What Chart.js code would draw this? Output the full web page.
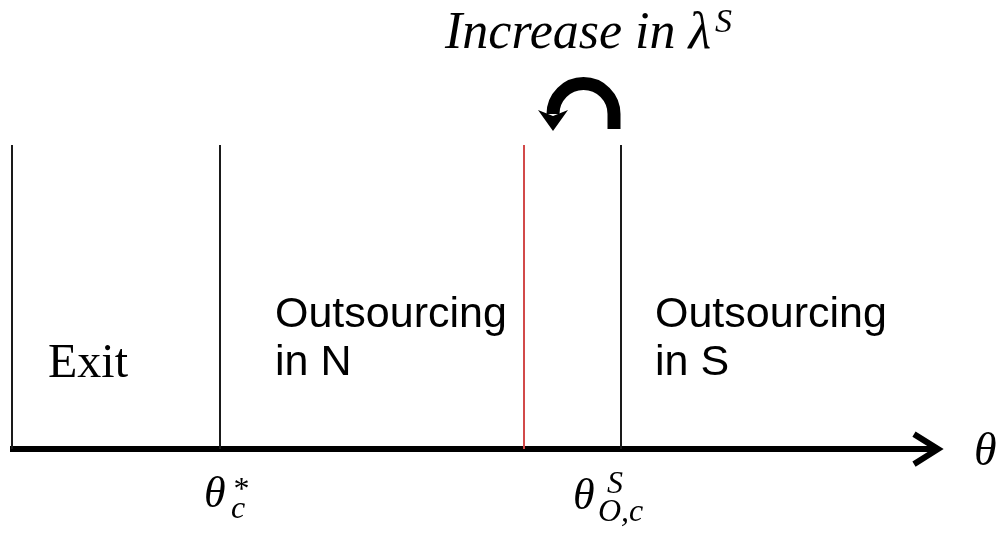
<!DOCTYPE html>
<html>
<head>
<meta charset="utf-8">
<script src="https://cdn.jsdelivr.net/npm/chart.js@4.4.0/dist/chart.umd.min.js"></script>
<style>
  html, body { margin: 0; padding: 0; background: #fff; overflow: hidden; }
  canvas { display: block; }
</style>
</head>
<body>
<canvas id="diagrama" width="1001" height="533"></canvas>
<script>
// umbrales sobre el eje theta (unidades del eje)
const umbrales = [0, 2.08, 5.12, 6.09];
const coloresUmbral = ['#1a1a1a', '#1a1a1a', '#d24a4a', '#1a1a1a'];
const finEje = 9.26;

// regiones: texto y umbral donde empiezan
const regiones = [['Exit'], ['Outsourcing', 'in N'], ['Outsourcing', 'in S']];
const inicioRegion = [0, 1, 3];

// etiquetas bajo el eje: [umbral, base, superindice, subindice]
const etiquetasUmbral = [
    [1, 'θ', '*', 'c'],
    [3, 'θ', 'S', 'O,c']
];
const tituloFlecha = ['Increase in λ', 'S'];

document.addEventListener('DOMContentLoaded', function() {
    const canvas = document.getElementById('diagrama');

    const lineasVerticales = umbrales.map(function(u, i) {
        return {
            data: [{ x: u, y: 0 }, { x: u, y: 1 }],
            borderColor: coloresUmbral[i],
            borderWidth: 2,
            pointRadius: 0,
            showLine: true
        };
    });

    const eje = {
        data: [{ x: -0.02, y: 0 }, { x: finEje, y: 0 }],
        borderColor: '#000',
        borderWidth: 6,
        pointRadius: 0,
        showLine: true
    };

    const dibujos = {
        id: 'dibujos',
        afterDatasetsDraw(chart) {
            const ctx = chart.ctx;
            const sx = chart.scales.x, sy = chart.scales.y;
            const y0 = sy.getPixelForValue(0);
            const punta = sx.getPixelForValue(finEje);
            ctx.save();

            // punta de flecha del eje
            ctx.strokeStyle = '#000';
            ctx.lineWidth = 6;
            ctx.lineJoin = 'miter';
            ctx.beginPath();
            ctx.moveTo(punta - 24, y0 - 15);
            ctx.lineTo(punta, y0);
            ctx.lineTo(punta - 24, y0 + 15);
            ctx.stroke();

            ctx.fillStyle = '#000';
            ctx.textBaseline = 'alphabetic';
            ctx.textAlign = 'left';

            // theta al final del eje
            ctx.font = 'italic 46px "Liberation Serif"';
            ctx.fillText('θ', punta + 36, y0 + 16);

            // textos de las regiones
            regiones.forEach(function(lineas, i) {
                const xu = sx.getPixelForValue(umbrales[inicioRegion[i]]);
                if (lineas.length === 1) {
                    ctx.font = '48px "Liberation Serif"';
                    ctx.fillText(lineas[0], xu + 36, y0 - 72);
                } else {
                    ctx.font = '43px "Liberation Sans"';
                    const dx = i === 1 ? 55 : 34;
                    ctx.fillText(lineas[0], xu + dx, y0 - 122);
                    ctx.fillText(lineas[1], xu + dx, y0 - 74);
                }
            });

            // etiquetas de umbrales
            etiquetasUmbral.forEach(function(e) {
                const xu = sx.getPixelForValue(umbrales[e[0]]);
                ctx.font = 'italic 44px "Liberation Serif"';
                if (e[3] === 'c') {
                    ctx.fillText(e[1], xu - 16, y0 + 58);
                    ctx.font = 'italic 32px "Liberation Serif"';
                    ctx.fillText(e[2], xu + 12, y0 + 50);
                    ctx.fillText(e[3], xu + 11, y0 + 69);
                } else {
                    ctx.fillText(e[1], xu - 48, y0 + 60);
                    ctx.font = 'italic 32px "Liberation Serif"';
                    ctx.fillText(e[2], xu - 14, y0 + 44);
                    ctx.fillText(e[3], xu - 23, y0 + 72);
                }
            });

            // flecha curva entre la linea roja y el umbral S
            const xd = sx.getPixelForValue(umbrales[3]) - 7;
            const xi = xd - 61;
            const cx = (xi + xd) / 2, cy = y0 - 335, r = (xd - xi) / 2;
            ctx.lineWidth = 13;
            ctx.lineCap = 'butt';
            ctx.beginPath();
            ctx.moveTo(xd, cy + 15);
            ctx.lineTo(xd, cy);
            ctx.arc(cx, cy, r, 0, Math.PI, true);
            ctx.stroke();
            ctx.beginPath();
            ctx.moveTo(xi - 15, cy - 4);
            ctx.lineTo(xi, cy + 2);
            ctx.lineTo(xi + 15, cy - 4);
            ctx.lineTo(xi, cy + 17);
            ctx.closePath();
            ctx.fill();

            // titulo
            ctx.font = 'italic 52px "Liberation Serif"';
            ctx.fillText(tituloFlecha[0], 445, 48);
            const w = ctx.measureText(tituloFlecha[0]).width;
            ctx.font = 'italic 34px "Liberation Serif"';
            ctx.fillText(tituloFlecha[1], 445 + w + 4, 32);

            ctx.restore();
        }
    };

    new Chart(canvas.getContext('2d'), {
        type: 'scatter',
        data: { datasets: lineasVerticales.concat([eje]) },
        options: {
            responsive: false,
            animation: false,
            layout: { padding: 0 },
            plugins: { legend: { display: false }, tooltip: { enabled: false } },
            scales: {
                x: { type: 'linear', display: false, min: -0.12, max: 9.89 },
                y: { type: 'linear', display: false, min: -0.276, max: 1.477 }
            }
        },
        plugins: [dibujos]
    });
});
</script>
</body>
</html>
